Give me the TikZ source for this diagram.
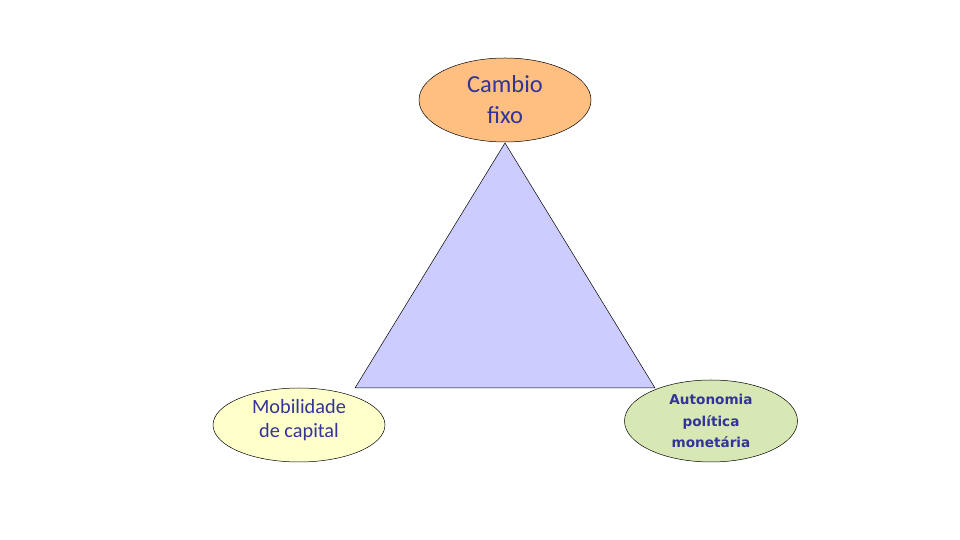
\documentclass[tikz,border=0pt]{standalone}
\usepackage{fontspec}
\setmainfont{Carlito}
\newfontfamily\tahomafont{DejaVu Sans}
\usepackage{tikz}
\usetikzlibrary{shapes.geometric,positioning,calc}
\definecolor{cFixo}{HTML}{FFBF80}
\definecolor{cCapital}{HTML}{FFFFCC}
\definecolor{cMonet}{HTML}{D7E8B4}
\definecolor{cTri}{HTML}{CCCCFF}
\definecolor{cTxt}{HTML}{333399}

\begin{document}
\begin{tikzpicture}[
    x=1pt, y=1pt,
    corner/.style={ellipse, draw=black, line width=0.5pt, inner sep=0pt,
                   align=center, text=cTxt},
  ]
  \useasboundingbox (0,0) rectangle (960,540);
  % triangle vertices
  \coordinate (vtop) at (505,397);
  \coordinate (vleft) at (355,152);
  \coordinate (vright) at (655,152);
  \draw[fill=cTri, line width=0.5pt] (vtop) -- (vleft) -- (vright) -- cycle;
  % corners of the trilemma
  \node[corner, fill=cFixo, minimum width=172, minimum height=84,
        font=\fontsize{24.5}{31}\selectfont] (fixo) at (505,440)
    {Cambio\\fixo};
  \node[corner, fill=cCapital, minimum width=172, minimum height=74,
        text depth=13.5pt, font=\fontsize{20.3}{24}\selectfont] (capital) at (299,115)
    {Mobilidade\\de capital};
  \node[corner, fill=cMonet, minimum width=173, minimum height=82,
        font=\tahomafont\bfseries\fontsize{13.6}{21.5}\selectfont] (monet) at (711,119)
    {Autonomia\\política\\monetária};
\end{tikzpicture}
\end{document}
